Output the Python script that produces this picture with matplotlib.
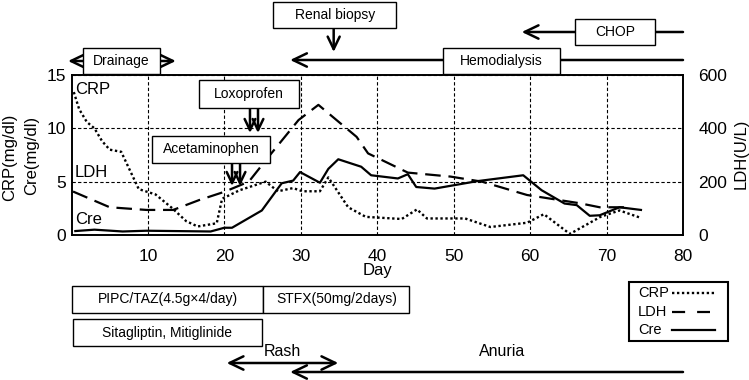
import matplotlib
matplotlib.use('Agg')
import matplotlib.pyplot as plt
from matplotlib.patches import Rectangle, FancyArrowPatch
from matplotlib.lines import Line2D
from matplotlib.transforms import blended_transform_factory

plt.rcParams['font.family'] = ['Liberation Sans', 'DejaVu Sans']

# --- data ---
crp_day = [0.3, 1, 2, 3, 4, 5, 6.5, 8.8, 11, 13.2, 15, 16.5, 19, 19.7, 22, 25.4, 27,
           29, 30.2, 32.5, 33.6, 36.2, 38.5, 43.2, 45.2, 46.5, 51.5, 54.8, 59.6, 61.8,
           65.2, 69.2, 71.7, 74.5]
crp_val = [13.4, 11.8, 10.6, 10.0, 8.8, 8.0, 7.8, 4.3, 3.8, 2.5, 1.3, 0.8, 1.1, 3.4, 4.2,
           5.0, 4.1, 4.4, 4.1, 4.1, 5.4, 2.6, 1.7, 1.5, 2.4, 1.55, 1.55, 0.75, 1.15, 1.95,
           0.1, 1.7, 2.3, 1.6]

ldh_day = [0.2, 5, 9.8, 13.3, 16.7, 20, 23.2, 25.8, 29.7, 32.3, 37.3, 38.8, 44, 49.6,
           53.7, 59.6, 66.5, 69.1, 73]
ldh_val = [163, 104, 94, 94, 131, 162, 200, 294, 431, 488, 368, 306, 234, 219, 200,
           150, 119, 104, 104]

cre_day = [0.5, 3, 6.7, 9.8, 18.2, 20, 21, 24.9, 27.5, 29, 29.9, 32.5, 33.6, 34.9, 37.9,
           39.2, 42.7, 44, 45.1, 47.5, 53.1, 59.1, 61.5, 64.5, 66.1, 67.8, 69.1, 71.7, 74.5]
cre_val = [0.37, 0.5, 0.33, 0.4, 0.33, 0.68, 0.68, 2.3, 4.85, 5.1, 5.9, 4.9, 6.2, 7.1,
           6.4, 5.6, 5.3, 5.7, 4.5, 4.35, 5.05, 5.6, 4.2, 2.95, 2.8, 1.8, 1.85, 2.6, 2.35]

# treatment / event periods (days)
drainage = (-0.45, 13.65)
hemodialysis = (28.6, 80)
chop = (58.9, 80)
renal_biopsy = 34.3
loxoprofen = [23.35, 24.4]
acetaminophen = [21.0, 22.05]
pipc_taz = (0.03, 25.1)
stfx = (25.1, 44.2)
sitagliptin = (0.16, 24.9)
rash = (20.3, 34.9)
anuria = (28.6, 80)

series_names = ['CRP', 'LDH', 'Cre']

W, H = 749, 380
fig = plt.figure(figsize=(W / 100, H / 100), dpi=100)
ax = fig.add_axes([71.5 / W, 1 - 235 / H, (683 - 71.5) / W, 160 / H])
ax2 = ax.twinx()

styles = {'CRP': dict(lw=1.7, linestyle=(0, (1, 1.1))),
          'LDH': dict(lw=1.6, linestyle=(0, (7, 3.5))),
          'Cre': dict(lw=1.6, linestyle='-')}

ax.plot(crp_day, crp_val, color='black', **styles['CRP'])
ax.plot(cre_day, cre_val, color='black', **styles['Cre'])
ax2.plot(ldh_day, ldh_val, color='black', **styles['LDH'])

ax.set_xlim(0, 80)
ax.set_ylim(0, 15)
ax2.set_ylim(0, 600)
ax.set_xticks(range(10, 81, 10))
ax.set_yticks([0, 5, 10, 15])
ax2.set_yticks([0, 200, 400, 600])
ax.grid(True, color='black', lw=0.8, linestyle=(0, (3, 2)))
ax.tick_params(length=0, labelsize=12.5, pad=4)
ax.tick_params(axis='x', pad=10)
ax2.tick_params(length=0, labelsize=12.5, pad=11)
for sp in list(ax.spines.values()) + list(ax2.spines.values()):
    sp.set_linewidth(1.2)
ax.set_xlabel('Day', fontsize=12, labelpad=-1)

ax.text(0.45, 13.6, 'CRP', fontsize=12, va='center')
ax.text(0.45, 5.9, 'LDH', fontsize=12, va='center')
ax.text(0.45, 1.5, 'Cre', fontsize=12, va='center')

fig.text(10 / W, 1 - 157 / H, 'CRP(mg/dl)', rotation=90, fontsize=12, ha='center', va='center')
fig.text(32 / W, 1 - 155 / H, 'Cre(mg/dl)', rotation=90, fontsize=12, ha='center', va='center')
fig.text(741 / W, 1 - 154 / H, 'LDH(U/L)', rotation=90, fontsize=12, ha='center', va='center')

# annotations: x in days, y in figure pixels from top
trans = blended_transform_factory(ax.transData, fig.transFigure)


def fy(py):
    return 1 - py / H


def box(x0, x1, y0, y1, text, fs=10):
    fig.add_artist(Rectangle((x0, fy(y1)), x1 - x0, fy(y0) - fy(y1), transform=trans,
                             facecolor='white', edgecolor='black', lw=1, zorder=5))
    fig.text((x0 + x1) / 2, fy((y0 + y1) / 2), text, transform=trans, fontsize=fs,
             ha='center', va='center', zorder=6)


def arrow(xa, ya, xb, yb, style, lw=1.8, ms=20):
    fig.add_artist(FancyArrowPatch((xa, fy(ya)), (xb, fy(yb)), transform=trans,
                                   arrowstyle=style, mutation_scale=ms, lw=lw,
                                   color='black', shrinkA=0, shrinkB=0, zorder=4))


chev = '->, head_length=0.5, head_width=0.24'
chev2 = '<->, head_length=0.5, head_width=0.24'

# top
arrow(drainage[0], 61, drainage[1], 61, chev2)
box(1.5, 11.6, 48, 74, 'Drainage')
box(26.4, 42.45, 2, 28, 'Renal biopsy')
arrow(renal_biopsy, 28, renal_biopsy, 52, chev, ms=18)
arrow(hemodialysis[1], 60, hemodialysis[0], 60, chev)
box(48.6, 63.9, 48, 74, 'Hemodialysis')
arrow(chop[1], 32, chop[0], 32, chev)
box(65.9, 76.3, 19, 45, 'CHOP')
box(16.7, 29.8, 80, 108, 'Loxoprofen')
for d in loxoprofen:
    arrow(d, 108, d, 133, chev, ms=16)
box(10.5, 26.0, 136, 163, 'Acetaminophen')
for d in acetaminophen:
    arrow(d, 163, d, 186, chev, ms=16)

# bottom
box(pipc_taz[0], pipc_taz[1], 286, 313, 'PIPC/TAZ(4.5g\u00d74/day)')
box(stfx[0], stfx[1], 286, 313, 'STFX(50mg/2days)')
box(sitagliptin[0], sitagliptin[1], 319, 346, 'Sitagliptin, Mitiglinide')
arrow(rash[0], 363, rash[1], 363, chev2)
fig.text(sum(rash) / 2, fy(352), 'Rash', transform=trans, fontsize=11.5, ha='center', va='center')
arrow(anuria[1], 372, anuria[0], 372, chev)
fig.text(56.3, fy(352), 'Anuria', transform=trans, fontsize=11.5, ha='center', va='center')

# legend box drawn by hand (text left, line right), figure pixels
fig.add_artist(Rectangle((629 / W, fy(341)), 99 / W, 59 / H, transform=fig.transFigure,
                         facecolor='white', edgecolor='black', lw=1.5))
leg_styles = [dict(lw=1.7, linestyle=(0, (1, 1.1))),
              dict(lw=1.6, linestyle=(0, (5.9, 5.4))),
              dict(lw=1.6, linestyle='-')]
leg_ends = [715, 710, 715]
for name, st, py, xe in zip(series_names, leg_styles, [293, 312, 330], leg_ends):
    fig.text(638 / W, fy(py), name, fontsize=10.5, va='center')
    fig.add_artist(Line2D([672 / W, xe / W], [fy(py), fy(py)], transform=fig.transFigure,
                          color='black', **st))

fig.savefig('out.png', dpi=100)
